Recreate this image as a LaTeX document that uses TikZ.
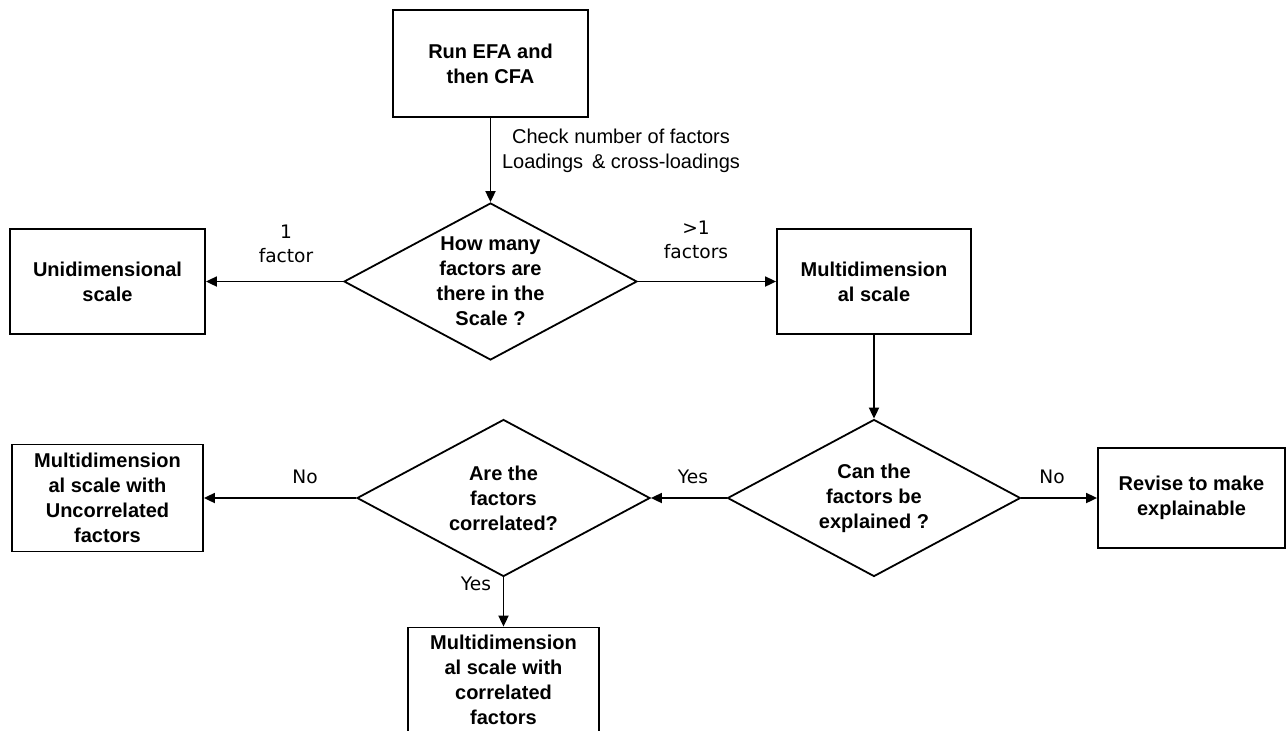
\documentclass[tikz,border=0pt]{standalone}
\usepackage{fontspec}
\setmainfont{Liberation Sans}
\newfontfamily\notefont{DejaVu Sans}
\usetikzlibrary{arrows.meta, shapes.geometric}
\tikzset{
    % process boxes
    sbox/.style={rectangle, draw=black, line width=0.9pt, align=center,
                inner sep=2pt, font=\fontsize{10}{12.5}\selectfont\bfseries},
    % decisions (text set as a centred label)
    sdec/.style={diamond, draw=black, line width=0.9pt, inner sep=0pt,
                minimum width=146.5pt, minimum height=78.5pt},
    stext/.style={align=center, font=\fontsize{10}{12.5}\selectfont\bfseries},
    sarrow/.style={-{Triangle[length=5.5pt, width=5pt]}, line width=0.9pt},
    snote/.style={align=center, font=\fontsize{10}{12.5}\selectfont},
    sbranch/.style={align=center, font=\notefont\fontsize{9.3}{12}\selectfont},
}
\begin{document}
\begin{tikzpicture}[x=0.5pt, y=-0.5pt]
\useasboundingbox (0,0) rectangle (1287,730);

\node[sbox, minimum width=97.5pt, minimum height=53.5pt] (run) at (490.5,63.5)
    {Run EFA and\\then CFA};
\node[sdec, label={[stext]center:How many\\factors are\\there in the\\Scale ?}] (howmany) at (490.5,281.5) {};
\node[sbox, minimum width=97.5pt, minimum height=52.5pt] (uni) at (107.5,281.5)
    {Unidimensional\\scale};
\node[sbox, minimum width=97pt, minimum height=52.5pt] (multi) at (874,281.5)
    {Multidimension\\al scale};
\node[sdec, label={[stext]center:Can the\\factors be\\explained ?}] (explain) at (874,498) {};
\node[sbox, minimum width=93.5pt, minimum height=50pt] (revise) at (1191.5,498)
    {Revise to make\\explainable};
\node[sdec, label={[stext]center:Are the\\factors\\correlated?}] (corr) at (503.5,498) {};
\node[sbox, minimum width=95.5pt, minimum height=53.5pt] (uncor) at (107.5,498)
    {Multidimension\\al scale with\\Uncorrelated\\factors};
\node[sbox, minimum width=95.5pt, minimum height=52.5pt] (cor) at (503.5,680)
    {Multidimension\\al scale with\\correlated\\factors};

\draw[sarrow] (run) -- (howmany);
\draw[sarrow] (howmany.west) -- (uni.east);
\draw[sarrow] (howmany.east) -- (multi.west);
\draw[sarrow] (multi) -- (explain);
\draw[sarrow] (explain.east) -- (revise.west);
\draw[sarrow] (explain.west) -- (corr.east);
\draw[sarrow] (corr.west) -- (uncor.east);
\draw[sarrow] (corr.south) -- (cor.north);

\node[snote] (checknote) at (621,150.5) {Check number of factors\\Loadings \,\& cross-loadings};
\node[sbranch] (one) at (286,244) {1\\factor};
\node[sbranch] (more) at (696,240) {>1\\factors};
\node[sbranch] (nofix) at (1052,477) {No};
\node[sbranch] (yesexp) at (693,477) {Yes};
\node[sbranch] (nocorr) at (305,477) {No};
\node[sbranch] (yescorr) at (476,584) {Yes};
\end{tikzpicture}
\end{document}
